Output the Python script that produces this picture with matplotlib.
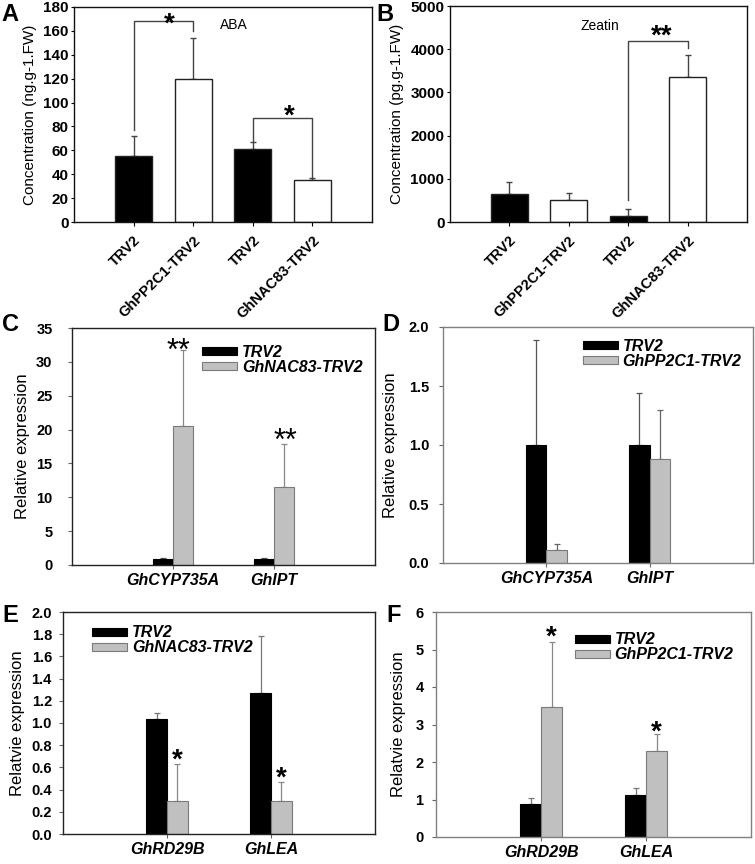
import matplotlib
matplotlib.use("Agg")
import matplotlib.pyplot as plt
import numpy as np

plt.rcParams['font.family'] = ['Liberation Sans', 'DejaVu Sans']

# ---------------- data ----------------
hormone_cats = ["TRV2", "GhPP2C1-TRV2", "TRV2", "GhNAC83-TRV2"]
hormone_colors = ["black", "white", "black", "white"]
aba_vals = [55, 120, 61, 35]
aba_err_top = [72, 154, 67, 36.5]
zeatin_vals = [650, 510, 150, 3360]
zeatin_err_top = [920, 660, 310, 3870]

genes_cd = ["GhCYP735A", "GhIPT"]
c_trv2 = [0.9, 0.9]
c_trv2_err = [1.0, 1.0]
c_nac = [20.6, 11.5]
c_nac_err = [31.8, 17.8]

d_trv2 = [1.0, 1.0]
d_trv2_err = [1.89, 1.44]
d_pp = [0.11, 0.88]
d_pp_err = [0.16, 1.30]

genes_ef = ["GhRD29B", "GhLEA"]
e_trv2 = [1.04, 1.27]
e_trv2_err = [1.09, 1.78]
e_nac = [0.30, 0.30]
e_nac_err = [0.63, 0.47]

f_trv2 = [0.88, 1.13]
f_trv2_err = [1.05, 1.30]
f_pp = [3.47, 2.30]
f_pp_err = [5.20, 2.75]

W, H = 755, 864
fig = plt.figure(figsize=(W / 100, H / 100), dpi=100)


def px_axes(x0, y0, x1, y1):
    return fig.add_axes([x0 / W, 1 - y1 / H, (x1 - x0) / W, (y1 - y0) / H])


def style_spines(ax, color, lw=1.0):
    for s in ax.spines.values():
        s.set_color(color)
        s.set_linewidth(lw)


def err_up(ax, x, v, top, color, lw=1.0, cap=2.5):
    v = np.asarray(v, float)
    top = np.asarray(top, float)
    ax.errorbar(x, v, yerr=[np.zeros_like(v), top - v], fmt='none',
                ecolor=color, elinewidth=lw, capsize=cap, capthick=lw, zorder=1)


def hormone_panel(ax, vals, tops, ylim, yticks, ylabel, label_x):
    xa = np.arange(len(hormone_cats))
    ax.bar(xa, vals, width=0.62, color=hormone_colors, edgecolor='#222222', linewidth=1.0, zorder=2)
    err_up(ax, xa, vals, tops, '#444444')
    ax.set_xlim(-1, 4)
    ax.set_ylim(*ylim)
    ax.set_yticks(yticks)
    ax.set_yticklabels([f"{t:g}" for t in yticks], fontsize=11, fontweight='bold')
    ax.set_xticks(xa)
    ax.set_xticklabels(hormone_cats, rotation=45, ha='right', rotation_mode='anchor',
                       fontsize=10.5, fontweight='bold')
    ax.tick_params(axis='y', direction='out', length=2, pad=2)
    ax.tick_params(axis='x', direction='out', length=3, pad=5)
    ax.set_ylabel(ylabel, fontsize=11)
    ax.yaxis.set_label_coords(label_x, 0.5)
    style_spines(ax, '#111111')
    return xa


# ---------------- Panel A ----------------
axA = px_axes(74, 7, 372, 222)
hormone_panel(axA, aba_vals, aba_err_top, (0, 180), np.arange(0, 181, 20),
              "Concentration (ng.g-1.FW)", -0.125)
axA.plot([0, 0, 1, 1], [77, 168, 168, 160], color='#444444', lw=1.0)
axA.text(0.6, 159, '*', ha='center', va='baseline', fontsize=20, fontweight='bold')
axA.plot([2, 2, 3, 3], [67, 87, 87, 38], color='#444444', lw=1.0)
axA.text(2.62, 82, '*', ha='center', va='baseline', fontsize=20, fontweight='bold')
axA.text(1.68, 165, 'ABA', ha='center', va='center', fontsize=10)

# ---------------- Panel B ----------------
axB = px_axes(450, 6, 747, 222)
hormone_panel(axB, zeatin_vals, zeatin_err_top, (0, 5000), np.arange(0, 5001, 1000),
              "Concentration (pg.g-1.FW)", -0.155)
axB.plot([2, 2, 3, 3], [510, 4190, 4190, 4030], color='#444444', lw=1.0)
axB.text(2.57, 4120, '**', ha='center', va='baseline', fontsize=20, fontweight='bold')
axB.text(1.52, 4540, 'Zeatin', ha='center', va='center', fontsize=10)

# ---------------- grouped panels ----------------
legend_font = {'weight': 'bold', 'style': 'italic', 'size': 11.5}


def grouped(ax, genes, v1, e1, v2, e2, ylim, yticks, yfmt, ylabel, labels,
            spine_color, leg_anchor, err1c, err2c, ypad, label_x):
    x = np.arange(len(genes))
    w = 0.2
    b1 = ax.bar(x - w / 2, v1, width=w, color='black', edgecolor='black', linewidth=0.8, zorder=2,
                label=labels[0])
    b2 = ax.bar(x + w / 2, v2, width=w, color='#c0c0c0', edgecolor='#7a7a7a', linewidth=0.8, zorder=2,
                label=labels[1])
    err_up(ax, x - w / 2, v1, e1, err1c, lw=0.9, cap=2.5)
    err_up(ax, x + w / 2, v2, e2, err2c, lw=0.9, cap=2.5)
    ax.set_xlim(-1, 2)
    ax.set_ylim(*ylim)
    ax.set_yticks(yticks)
    ax.set_yticklabels([yfmt.format(t) for t in yticks], fontsize=10.5, fontweight='bold')
    ax.set_xticks(x)
    ax.set_xticklabels(genes, fontsize=11.5, fontweight='bold', style='italic')
    ax.tick_params(axis='both', direction='out', length=3, color='#666666')
    ax.tick_params(axis='x', pad=3)
    ax.tick_params(axis='y', pad=ypad)
    ax.set_ylabel(ylabel, fontsize=12)
    ax.yaxis.set_label_coords(label_x, 0.5)
    style_spines(ax, spine_color)
    ax.legend(handles=[b1, b2], loc='upper left', bbox_to_anchor=leg_anchor, frameon=False,
              prop=legend_font, handlelength=2.2, handleheight=0.4, labelspacing=0.0,
              handletextpad=0.3, borderpad=0, borderaxespad=0)
    return x


axC = px_axes(72, 328, 375, 565)
grouped(axC, genes_cd, c_trv2, c_trv2_err, c_nac, c_nac_err, (0, 35), np.arange(0, 36, 5), "{:g}",
        "Relative expression", ["TRV2", "GhNAC83-TRV2"], '#222222', (0.43, 0.93), '#555555', '#888888',
        11, -0.14)
axC.text(0.05, 30.3, '**', ha='center', va='baseline', fontsize=22)
axC.text(1.11, 17.0, '**', ha='center', va='baseline', fontsize=22)

axD = px_axes(443, 327, 753, 563)
grouped(axD, genes_cd, d_trv2, d_trv2_err, d_pp, d_pp_err, (0, 2.0), np.arange(0, 2.01, 0.5), "{:.1f}",
        "Relative expression", ["TRV2", "GhPP2C1-TRV2"], '#808080', (0.45, 0.95), '#555555', '#666666',
        7, -0.145)

axE = px_axes(63, 612, 375, 834)
grouped(axE, genes_ef, e_trv2, e_trv2_err, e_nac, e_nac_err, (0, 2.0), np.arange(0, 2.01, 0.2), "{:.1f}",
        "Relatvie expression", ["TRV2", "GhNAC83-TRV2"], '#222222', (0.093, 0.94), '#777777', '#888888',
        5, -0.122)
axE.text(0.1, 0.60, '*', ha='center', va='baseline', fontsize=20, fontweight='bold')
axE.text(1.1, 0.44, '*', ha='center', va='baseline', fontsize=20, fontweight='bold')

axF = px_axes(436, 612, 751, 837)
grouped(axF, genes_ef, f_trv2, f_trv2_err, f_pp, f_pp_err, (0, 6), np.arange(0, 7, 1), "{:g}",
        "Relatvie expression", ["TRV2", "GhPP2C1-TRV2"], '#808080', (0.44, 0.91), '#777777', '#888888',
        6, -0.095)
axF.text(0.1, 5.12, '*', ha='center', va='baseline', fontsize=20, fontweight='bold')
axF.text(1.1, 2.59, '*', ha='center', va='baseline', fontsize=20, fontweight='bold')

# panel letters
for lab, x, y in [('A', 1, 3), ('B', 376, 3), ('C', 2, 313), ('D', 382, 313), ('E', 2, 604), ('F', 386, 604)]:
    fig.text(x / W, 1 - y / H, lab, ha='left', va='top', fontsize=17, fontweight='bold')

fig.savefig("out.png", dpi=100)
